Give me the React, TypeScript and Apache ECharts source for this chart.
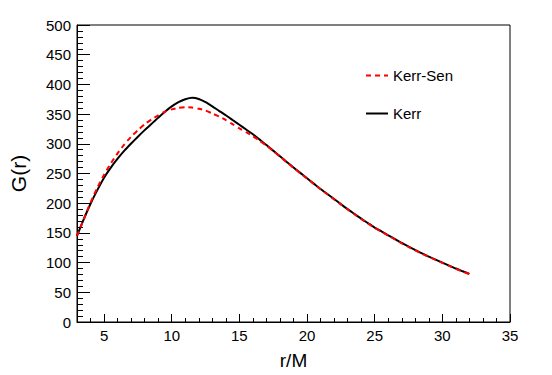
import React, { useEffect, useRef } from "react";
import * as echarts from "echarts";

const rValues = [3.0, 3.5, 4.0, 4.5, 5.0, 5.5, 6.0, 6.5, 7.0, 7.5, 8.0, 8.5, 9.0, 9.5, 10.0, 10.5, 11.0, 11.5, 12.0, 12.5, 13.0, 13.5, 14.0, 14.5, 15.0, 15.5, 16.0, 16.5, 17.0, 17.5, 18.0, 18.5, 19.0, 19.5, 20.0, 20.5, 21.0, 21.5, 22.0, 22.5, 23.0, 23.5, 24.0, 24.5, 25.0, 25.5, 26.0, 26.5, 27.0, 27.5, 28.0, 28.5, 29.0, 29.5, 30.0, 30.5, 31.0, 31.5, 32.0];
const kerr = [145, 173, 199, 222, 243, 260, 275, 288.5, 300.5, 312, 323, 333.5, 344, 354, 363, 370, 375, 377.5, 375.5, 370, 363, 355.5, 348, 340, 332, 324, 316, 307, 298, 288.5, 279, 269.5, 260, 251, 242, 233, 224, 215.5, 207, 198.5, 190, 182, 174, 166.5, 159, 152.5, 146, 139.5, 133, 127, 121, 115.5, 110, 105, 100, 95, 90, 85.5, 81];
const kerrSen = [145, 173, 201, 226, 248, 267, 284, 299, 312, 323, 333, 341, 348, 354, 358, 360.5, 361.5, 361, 359, 356, 351, 346, 340, 333, 326, 319.5, 313, 305, 297, 288, 278.5, 269, 259.5, 250.5, 241.5, 232.5, 223.5, 215, 206.5, 198, 189.5, 181.5, 173.5, 166, 158.5, 152, 145.5, 139, 132.5, 126.5, 120.5, 115, 109.5, 104.5, 99.5, 94.5, 89.5, 85, 80.5];
const xMajorTicks = [5, 10, 15, 20, 25, 30, 35];
const xMinorTicks = [4, 6, 7, 8, 9, 11, 12, 13, 14, 16, 17, 18, 19, 21, 22, 23, 24, 26, 27, 28, 29, 31, 32, 33, 34];

const FONT = "Liberation Sans, Arial, Helvetica, sans-serif";

export default function App() {
  const ref = useRef<HTMLDivElement>(null);
  useEffect(() => {
    if (!ref.current) return;
    const chart = echarts.init(ref.current, undefined, { renderer: "svg" });
    const pair = (ys: number[]) => rValues.map((r, i) => [r, ys[i]]);
    chart.setOption({
      animation: false,
      backgroundColor: "#ffffff",
      textStyle: { fontFamily: FONT },
      grid: {
        left: 69,
        right: 42,
        top: 25,
        bottom: 50,
        show: true,
        borderColor: "#000",
        borderWidth: 1,
        backgroundColor: "transparent",
      },
      legend: {
        orient: "vertical",
        left: 360,
        top: 63,
        itemWidth: 22,
        itemHeight: 14,
        itemGap: 23,
        itemStyle: { opacity: 0 },
        textStyle: { fontSize: 15, color: "#000", fontFamily: FONT },
        data: ["Kerr-Sen", "Kerr"],
      },
      xAxis: [
        {
          type: "value",
          min: 3,
          max: 35,
          name: "r/M",
          nameLocation: "middle",
          nameGap: 29,
          nameTextStyle: { fontSize: 19, color: "#000", fontFamily: FONT },
          axisLine: { show: true, onZero: false, lineStyle: { color: "#000", width: 1 } },
          axisTick: {
            show: true,
            inside: true,
            length: 8,
            customValues: xMajorTicks,
            lineStyle: { color: "#000" },
          },
          axisLabel: {
            show: true,
            customValues: xMajorTicks,
            fontSize: 15,
            color: "#000",
            margin: 6,
            fontFamily: FONT,
          },
          splitLine: { show: false },
        },
        {
          type: "value",
          min: 3,
          max: 35,
          position: "bottom",
          axisLine: { show: false, onZero: false },
          axisTick: {
            show: true,
            inside: true,
            length: 4,
            customValues: xMinorTicks,
            lineStyle: { color: "#000" },
          },
          axisLabel: { show: false },
          splitLine: { show: false },
        },
      ],
      yAxis: {
        type: "value",
        min: 0,
        max: 500,
        interval: 50,
        name: "G(r)",
        nameLocation: "middle",
        nameGap: 48,
        nameTextStyle: { fontSize: 21, color: "#000", fontFamily: FONT },
        axisLine: { show: true, onZero: false, lineStyle: { color: "#000", width: 1 } },
        axisTick: { show: true, inside: true, length: 13, lineStyle: { color: "#000" } },
        minorTick: { show: true, splitNumber: 5, length: 6, lineStyle: { color: "#000" } },
        axisLabel: { fontSize: 15, color: "#000", margin: 6, fontFamily: FONT },
        splitLine: { show: false },
      },
      series: [
        {
          name: "Kerr-Sen",
          type: "line",
          xAxisIndex: 0,
          data: pair(kerrSen),
          symbol: "none",
          smooth: 0.2,
          lineStyle: { color: "#ff0000", width: 2, type: [5, 4] },
          itemStyle: { color: "#ff0000" },
          z: 3,
        },
        {
          name: "Kerr",
          type: "line",
          xAxisIndex: 0,
          data: pair(kerr),
          symbol: "none",
          smooth: 0.2,
          lineStyle: { color: "#000000", width: 2 },
          itemStyle: { color: "#000000" },
          z: 2,
        },
      ],
    });
    return () => chart.dispose();
  }, []);
  return (
    <div
      ref={ref}
      style={{ position: "fixed", left: 0, top: 0, width: 552, height: 375, background: "#fff" }}
    />
  );
}
